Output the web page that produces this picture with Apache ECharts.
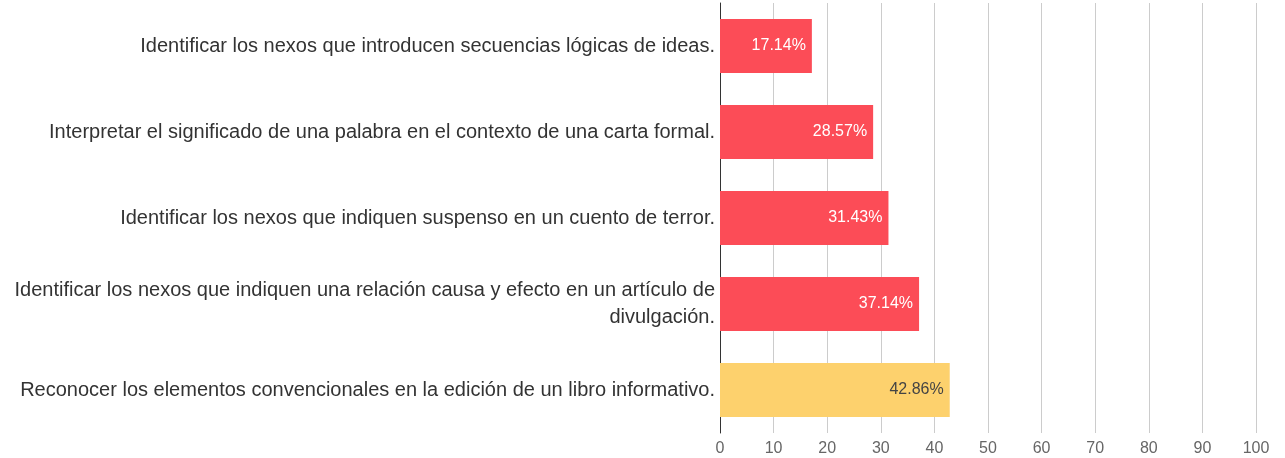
<!DOCTYPE html>
<html><head><meta charset="utf-8">
<script src="https://cdn.jsdelivr.net/npm/echarts@6/dist/echarts.min.js"></script>
<style>html,body{margin:0;padding:0;background:#fff}#c{width:1285px;height:458px}</style>
</head><body><div id="c"></div>
<script>
const categories = [
  "Identificar los nexos que introducen secuencias lógicas de ideas.",
  "Interpretar el significado de una palabra en el contexto de una carta formal.",
  "Identificar los nexos que indiquen suspenso en un cuento de terror.",
  "Identificar los nexos que indiquen una relación causa y efecto en un artículo de\ndivulgación.",
  "Reconocer los elementos convencionales en la edición de un libro informativo."
];
const values = [17.14, 28.57, 31.43, 37.14, 42.86];
const barColors = ["#fc4c57", "#fc4c57", "#fc4c57", "#fc4c57", "#fdd16d"];
const labelColors = ["#ffffff", "#ffffff", "#ffffff", "#ffffff", "#444444"];

const chart = echarts.init(document.getElementById('c'), null, {renderer: 'canvas'});
chart.setOption({
  animation: false,
  grid: {left: 720, right: 29, top: 3, bottom: 25, containLabel: false},
  xAxis: {
    type: 'value', min: 0, max: 100, interval: 10,
    axisLine: {show: false}, axisTick: {show: false},
    splitLine: {lineStyle: {color: '#cccccc', width: 1}},
    axisLabel: {color: '#666666', fontSize: 16, fontFamily: 'Liberation Sans', margin: 8}
  },
  yAxis: {
    type: 'category', data: categories, inverse: true,
    axisLine: {show: true, lineStyle: {color: '#333333', width: 1}},
    axisTick: {show: false},
    axisLabel: {color: '#333333', fontSize: 20, fontFamily: 'Liberation Sans', margin: 5, align: 'right', lineHeight: 27, padding: [4, 0, 0, 0]}
  },
  series: [{
    type: 'bar',
    barCategoryGap: '37%',
    data: values.map((v, i) => ({
      value: v,
      itemStyle: {color: barColors[i]},
      label: {color: labelColors[i]}
    })),
    label: {
      show: true, position: 'insideRight', distance: 6,
      fontSize: 16, fontFamily: 'Liberation Sans',
      formatter: p => p.value.toFixed(2) + '%'
    }
  }]
});
</script></body></html>
